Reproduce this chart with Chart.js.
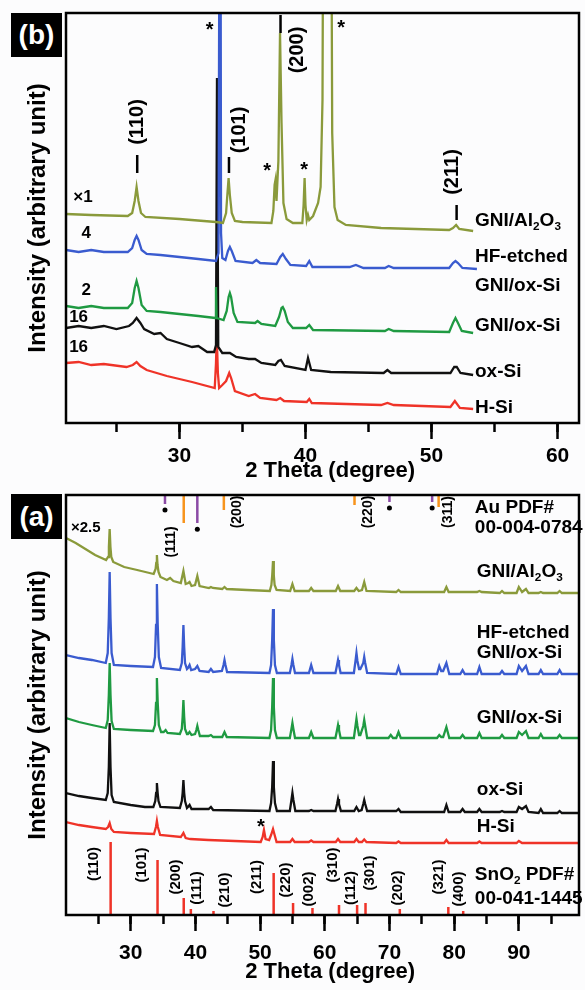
<!DOCTYPE html>
<html>
<head>
<meta charset="utf-8">
<script src="https://cdn.jsdelivr.net/npm/chart.js@4.4.0/dist/chart.umd.min.js"></script>
<style>
  body { margin: 0; background: #fcfcfd; width: 585px; height: 990px; position: relative; overflow: hidden; }
  .wrap { position: absolute; left: 0; width: 585px; }
  .tag { position: absolute; left: 11px; width: 51px; background: #000; color: #fff;
         font: bold 28px 'Liberation Sans', Arial, sans-serif; display: flex; align-items: center; justify-content: center; }
</style>
</head>
<body>
<div class="wrap" style="top:0;height:484px"><canvas id="chartB" width="585" height="484"></canvas></div>
<div class="wrap" style="top:484px;height:506px"><canvas id="chartA" width="585" height="506"></canvas></div>
<div class="tag" style="top:13px;height:44px">(b)</div>
<div class="tag" style="top:494px;height:45px">(a)</div>
<script>
const FONT = "'Liberation Sans', Arial, sans-serif";
const OLIVE = '#8a9a3b', BLUE = '#3a5bcf', GREEN = '#1f9a42', BLACK = '#111111', RED = '#ef3328';
const ORANGE = '#f7941d', PURPLE = '#8b4aa6';

// ---- panel (b): 2theta vs intensity (offset curves) ----
const bAl = [[21,209],[23,208],[25.9,207],[26.25,210],[26.45,222],[26.6,236],[26.75,222],[26.95,210],[27.3,206],[30,204],[32.9,201],[33.45,200],[33.7,210],[33.8,228],[33.9,245],[34.0,228],[34.15,210],[34.4,202],[35,201],[37.3,200],[37.45,212],[37.55,238],[37.62,243],[37.7,222],[37.85,262],[37.98,390],[38.1,300],[38.25,220],[38.5,204],[39.0,200],[39.75,200],[39.85,218],[39.93,245],[40.0,218],[40.1,203],[40.2,208],[40.3,203],[40.6,207],[41.0,220],[41.2,236],[41.35,323],[41.45,700],[42.0,700],[42.12,290],[42.3,216],[42.55,203],[43.2,198],[46,195],[51.4,193],[51.7,195],[51.95,198],[52.2,194],[53.3,192]];
const bHF = [[21,173],[22,171],[23,173],[24,171],[25.9,171],[26.25,175],[26.45,183],[26.6,187],[26.75,183],[27.0,173],[27.4,169],[28.5,168],[30,166],[31.5,164],[32.9,162],[33.1,170],[33.17,500],[33.23,800],[33.3,190],[33.4,165],[33.65,163],[33.85,172],[34.0,176],[34.15,172],[34.45,162],[35.8,160],[36.1,163],[36.4,160],[37.7,159],[38.0,166],[38.2,169],[38.45,164],[38.8,158],[40.05,157],[40.3,162],[40.55,156],[43.5,156],[44.0,158],[44.6,155],[46.3,155],[46.6,157],[47,155],[51.4,155],[51.7,160],[51.9,162],[52.1,160],[52.45,155],[53.6,154]];
const bGox = [[21,117],[22,115],[23,117],[24,115],[25.9,115],[26.25,120],[26.45,135],[26.6,142],[26.75,135],[27.0,118],[27.4,112],[28.5,111],[30,109],[31.5,107],[32.85,105],[32.9,136],[32.95,105],[33.5,103],[33.75,112],[33.9,126],[34.0,130],[34.1,126],[34.3,110],[34.6,101],[36.0,100],[36.2,102],[36.5,99],[37.6,97],[37.9,106],[38.1,115],[38.2,116],[38.35,112],[38.6,101],[39.0,95],[40.05,95],[40.3,98],[40.6,93],[46.3,92],[46.6,94],[47,92],[51.4,91],[51.7,100],[51.9,105],[52.1,100],[52.4,92],[53.3,90]];
const bOx = [[21,95],[22,97],[23,95],[24,97],[25,94],[26,97],[26.3,100],[26.6,105],[26.9,100],[27.2,94],[28,89],[28.5,90],[29,84],[30,80],[31,76],[31.5,77],[32.2,71],[32.75,71],[32.9,78],[32.98,345],[33.08,76],[33.4,70],[34.0,70],[34.5,66],[35.5,64],[36.0,64],[36.5,60],[37.6,58],[37.85,62],[38.05,63],[38.35,57],[40.0,53],[40.2,65],[40.45,53],[42,51],[46.2,50],[46.5,53],[46.8,50],[51.5,50],[51.8,56],[52.0,56],[52.3,50],[53.3,48]];
const bHSi = [[21,60],[22,61],[23,58],[24,59],[25.8,56],[26.3,58],[26.6,61],[26.9,57],[27.4,53],[29,47],[31,41],[32.8,35],[32.9,60],[32.96,88],[33.05,50],[33.15,35],[33.4,38],[33.7,42],[33.95,50],[34.1,45],[34.4,32],[35.5,27],[36.0,29],[36.4,25],[37.7,23],[38.0,25],[38.3,22],[40.1,21],[40.3,24],[40.5,20],[46,18],[46.5,20],[47,18],[51.5,16],[51.85,22],[52.25,15],[53.3,14]];

// ---- panel (a) ----
const aAl = [[20,377],[21.5,372],[23,366],[24.5,360],[26.2,355],[26.5,358],[26.63,368],[26.75,386],[26.87,368],[27.0,358],[27.3,353],[29,348],[31,345],[33.55,341],[33.85,346],[33.95,352],[34.05,360],[34.15,350],[34.3,343],[34.6,338],[35.6,335],[36.1,337],[36.6,334],[37.75,332],[38.15,344],[38.5,331],[38.9,332],[39.1,333],[39.4,329],[39.95,330],[40.3,339],[40.65,329],[42.1,327],[42.4,328],[42.7,327],[44.15,326],[44.5,328],[44.85,326],[48,325],[51.5,324],[51.75,330],[51.88,340],[52.0,354],[52.12,340],[52.25,330],[52.55,325],[54.65,324],[55.0,331],[55.35,324],[57.55,324],[57.9,327],[58.25,324],[61.7,324],[62.05,329],[62.4,324],[64.55,324],[64.9,327],[65.25,324],[65.75,325],[66.1,333],[66.45,324],[71.05,323],[71.4,325],[71.75,323],[78.45,323],[78.8,328],[79.15,323],[83.55,323],[83.9,324],[84.25,323],[87.05,322],[87.4,324],[87.75,322],[89.65,322],[90.0,328],[90.5,323],[91.1,326],[91.5,322],[93.05,322],[93.4,323],[93.75,322],[95.95,322],[96.3,324],[96.65,322],[99.3,322]];
const aHF = [[20,260],[22,257],[24,255],[26.15,252],[26.45,262],[26.62,297],[26.75,343],[26.88,297],[27.05,262],[27.4,250],[30,249],[33.45,248],[33.75,258],[33.92,290],[34.05,331],[34.18,290],[34.35,258],[34.7,247],[37.6,245],[37.9,252],[38.03,268],[38.15,290],[38.27,268],[38.4,252],[38.7,246],[38.85,247],[39.1,250],[39.35,245],[39.95,246],[40.3,249],[40.65,244],[42.05,243],[42.4,246],[42.75,243],[44.1,244],[44.35,250],[44.5,255],[44.65,250],[44.9,243],[51.45,242],[51.7,250],[51.87,275],[52.0,306],[52.13,275],[52.3,250],[52.6,242],[54.6,242],[54.85,250],[55.0,256],[55.15,250],[55.4,242],[57.55,242],[57.9,250],[58.25,242],[61.65,242],[61.9,250],[62.05,255],[62.2,250],[62.45,242],[64.5,242],[64.75,254],[64.9,262],[65.05,254],[65.3,246],[65.5,246],[65.95,252],[66.1,258],[66.25,252],[66.55,242],[71.05,241],[71.4,248],[71.75,241],[77.35,241],[77.7,249],[78.0,244],[78.3,244],[78.8,252],[79.25,241],[80.95,241],[81.3,245],[81.65,241],[83.55,241],[83.9,248],[84.25,241],[87.05,241],[87.4,244],[87.75,241],[89.65,241],[90.0,249],[90.5,244],[91.1,249],[91.5,241],[93.05,241],[93.4,245],[93.75,241],[95.95,241],[96.3,245],[96.65,241],[99.3,241]];
const aGox = [[20,197],[22,193],[24,190],[26.15,187],[26.45,195],[26.62,220],[26.75,252],[26.88,220],[27.05,194],[27.4,186],[30,185],[33.45,184],[33.75,190],[33.92,212],[34.05,237],[34.18,212],[34.35,190],[34.7,183],[35.1,183],[35.4,185],[35.7,182],[37.6,181],[37.9,186],[38.03,198],[38.15,215],[38.27,198],[38.4,186],[38.7,181],[38.85,181],[39.1,183],[39.4,180],[39.95,181],[40.15,185],[40.3,189],[40.45,185],[40.7,179],[42.05,179],[42.4,180],[42.75,178],[44.15,178],[44.5,183],[44.85,178],[51.45,177],[51.7,185],[51.87,208],[52.0,237],[52.13,208],[52.3,185],[52.6,177],[54.6,177],[54.85,186],[55.0,192],[55.15,186],[55.4,177],[57.55,177],[57.9,183],[58.25,177],[61.65,177],[61.9,185],[62.05,190],[62.2,185],[62.45,177],[64.5,177],[64.75,189],[64.9,196],[65.05,189],[65.3,180],[65.5,180],[65.95,189],[66.1,195],[66.25,189],[66.55,177],[69.85,177],[70.2,180],[70.55,177],[71.05,177],[71.4,183],[71.75,177],[77.35,177],[77.7,180],[78.0,178],[78.3,178],[78.8,188],[79.25,177],[80.95,177],[81.3,180],[81.65,177],[83.55,177],[83.9,182],[84.25,177],[87.05,177],[87.4,180],[87.75,177],[89.65,177],[90.0,183],[90.5,180],[91.1,184],[91.5,177],[93.05,177],[93.4,181],[93.75,177],[95.95,177],[96.3,180],[96.65,177],[99.3,177]];
const aOx = [[20,122],[22,119],[24,117],[26.15,115],[26.45,122],[26.62,148],[26.75,192],[26.88,148],[27.05,120],[27.4,113],[30,110],[32.2,108],[33.5,108],[33.8,114],[33.93,122],[34.05,132],[34.17,122],[34.3,114],[34.6,108],[37.6,107],[37.9,114],[38.03,122],[38.15,135],[38.27,122],[38.4,114],[38.7,107],[38.85,108],[39.1,110],[39.4,106],[42.05,106],[42.4,108],[42.75,105],[51.45,104],[51.7,112],[51.87,128],[52.0,154],[52.13,128],[52.3,112],[52.6,104],[54.6,104],[54.85,115],[55.0,122],[55.15,115],[55.45,104],[57.55,104],[57.9,105],[58.25,104],[61.65,104],[61.9,111],[62.05,116],[62.2,111],[62.5,104],[64.55,104],[64.9,108],[65.25,104],[65.7,105],[65.95,111],[66.1,115],[66.25,111],[66.55,104],[71.05,104],[71.4,106],[71.75,103],[78.45,103],[78.8,110],[79.15,103],[80.95,103],[81.3,106],[81.65,103],[83.55,103],[83.9,106],[84.25,103],[87.05,103],[87.4,104],[87.75,103],[89.65,103],[90.0,108],[90.5,106],[91.1,109],[91.5,103],[93.05,102],[93.4,106],[93.75,102],[95.95,102],[96.3,104],[96.65,102],[99.3,102]];
const aHSi = [[20,93],[22,90],[24,88],[26.15,86],[26.5,88],[26.75,92],[27.0,86],[27.4,83],[30,82],[33.6,81],[33.9,88],[34.05,94],[34.2,88],[34.55,80],[37.75,78],[38.15,82],[38.5,77],[39.2,76],[42,75],[50.1,73],[50.4,78],[50.6,85],[50.85,76],[51.4,75],[51.7,80],[52.0,86],[52.25,80],[52.55,73],[54.65,73],[55.0,76],[55.35,73],[57.55,73],[57.9,74.5],[58.25,73],[61.7,73],[62.05,76],[62.4,73],[64.55,73],[64.9,76],[65.25,73],[65.75,73],[66.1,75.5],[66.45,73],[71.05,72],[71.4,73.5],[71.75,72],[78.45,72],[78.8,75],[79.15,72],[83.55,72],[83.9,73.5],[84.25,72],[89.65,72],[90.0,74],[90.5,72],[99.3,72]];

// SnO2 reference sticks (PDF 00-041-1445)
const snoTheta = [26.9, 34.15, 38.2, 39.3, 42.8, 52.1, 55.1, 58.1, 62.2, 65.0, 66.3, 71.6, 79.1, 81.4];
const snoHeight = [73, 55, 17, 6, 4, 42, 12, 7, 10, 10, 12, 6, 8, 4];
const snoLabels = ['(110)','(101)','(200)','(111)','(210)','(211)','(220)','(002)','(310)','(112)','(301)','(202)','(321)','(400)'];
const snoLabelX = [24.34, 31.7, 37.0, 40.3, 44.5, 49.55, 54.0, 57.6, 61.2, 64.1, 66.9, 71.3, 77.6, 80.8];
const snoLabelY = [51, 50, 38, 27, 25, 38, 35, 26, 50, 27, 42, 27, 38, 26];

// Au reference (orange) and other marks (purple, with dots)
const auTheta = [38.2, 44.4, 64.6, 77.6];
const auLow = [392, 405, 410, 408];
const markTheta = [35.3, 40.3, 70.0, 76.6];
const markLow = [411, 392, 413, 413];
const dotY = [405, 385.7, 407, 407];

const toXY = arr => arr.map(([x, y]) => ({ x, y }));
function sticks(xs, lows, highs) {
  const out = [];
  xs.forEach((x, i) => { out.push({ x, y: lows[i] }, { x, y: highs[i] }, { x, y: null }); });
  return out;
}
function line(data, color, w) {
  return { type: 'line', data, borderColor: color, borderWidth: w || 2.3, pointRadius: 0, tension: 0, spanGaps: false };
}

function notesPlugin(items) {
  return {
    id: 'notes',
    afterDatasetsDraw(chart) {
      const { ctx, chartArea: a, scales } = chart;
      const sx = scales.x, sy = scales.y;
      ctx.save();
      ctx.strokeStyle = '#000';
      ctx.lineWidth = 2.5;
      ctx.strokeRect(a.left, a.top, a.right - a.left, a.bottom - a.top);
      items.forEach(n => {
        const px = sx.getPixelForValue(n.x);
        const py = sy.getPixelForValue(n.y);
        ctx.save();
        ctx.fillStyle = '#000';
        ctx.strokeStyle = '#000';
        if (n.bar !== undefined) {
          ctx.lineWidth = 2.5;
          ctx.beginPath();
          ctx.moveTo(px, py);
          ctx.lineTo(px, sy.getPixelForValue(n.bar));
          ctx.stroke();
        } else if (n.star) {
          ctx.font = `bold ${n.size}px ${FONT}`;
          ctx.textAlign = 'center';
          ctx.textBaseline = 'alphabetic';
          ctx.fillText('*', px, py + n.size * 0.55);
        } else {
          const parts = n.parts || [[n.text]];
          ctx.translate(px, py);
          if (n.rot) ctx.rotate(-Math.PI / 2);
          ctx.textBaseline = 'middle';
          ctx.textAlign = 'left';
          let w = 0;
          parts.forEach(p => {
            ctx.font = `bold ${p[1] ? n.size * 0.62 : n.size}px ${FONT}`;
            w += ctx.measureText(p[0]).width;
          });
          let cx = n.align === 'left' ? 0 : -w / 2;
          parts.forEach(p => {
            ctx.font = `bold ${p[1] ? n.size * 0.62 : n.size}px ${FONT}`;
            ctx.fillText(p[0], cx, p[1] ? n.size * 0.3 : 0);
            cx += ctx.measureText(p[0]).width;
          });
        }
        ctx.restore();
      });
      ctx.restore();
    }
  };
}

function axes(min, max, ymax, tickPad, xHeight) {
  const inner = s => { s.ticks = s.ticks.filter(t => t.value > s.min + 0.01 && t.value < s.max - 0.01); };
  return {
    xMinor: {
      type: 'linear', position: 'bottom', min, max, weight: 0,
      border: { display: false },
      grid: { drawOnChartArea: false, tickLength: 9, tickWidth: 2.5, tickColor: '#000' },
      ticks: { display: false, stepSize: 5, includeBounds: false },
      afterBuildTicks: inner,
      afterFit: s => { s.height = 0; }
    },
    x: {
      type: 'linear', position: 'bottom', min, max, weight: 1,
      border: { display: false },
      grid: { drawOnChartArea: false, tickLength: 16, tickWidth: 2.5, tickColor: '#000' },
      ticks: { stepSize: 10, includeBounds: false, padding: tickPad, maxRotation: 0, color: '#000',
               font: { family: FONT, size: 21, weight: 'bold' } },
      afterBuildTicks: inner,
      title: { display: true, text: '\u2002\u20092 Theta (degree)', color: '#000', padding: 0,
               font: { family: FONT, size: 22, weight: 'bold' } },
      afterFit: s => { s.height = xHeight; }
    },
    y: {
      min: 0, max: ymax,
      ticks: { display: false }, grid: { display: false }, border: { display: false },
      title: { display: true, text: 'Intensity (arbitrary unit)', color: '#000', padding: { top: 24, bottom: 0 },
               font: { family: FONT, size: 24, weight: 'bold' } },
      afterFit: s => { s.width = 66; }
    }
  };
}

function baseOptions(scales, pad) {
  return {
    responsive: false, animation: false,
    layout: { padding: pad },
    plugins: { legend: { display: false }, tooltip: { enabled: false } },
    scales
  };
}

// ---- annotations panel (b) ----
const alParts = [['GNI/Al'], ['2', 1], ['O'], ['3', 1]];
const notesB = [
  { x: 53.45, y: 202, parts: alParts, size: 19, align: 'left' },
  { x: 53.45, y: 166, text: 'HF-etched', size: 19, align: 'left' },
  { x: 53.45, y: 137, text: 'GNI/ox-Si', size: 19, align: 'left' },
  { x: 53.45, y: 97, text: 'GNI/ox-Si', size: 19, align: 'left' },
  { x: 53.45, y: 51, text: 'ox-Si', size: 19, align: 'left' },
  { x: 53.45, y: 15, text: 'H-Si', size: 19, align: 'left' },
  { x: 22.35, y: 226, text: '\u00d71', size: 17 },
  { x: 22.6, y: 190, text: '4', size: 17 },
  { x: 22.6, y: 133, text: '2', size: 17 },
  { x: 22.0, y: 106, text: '16', size: 17 },
  { x: 22.0, y: 76, text: '16', size: 17 },
  { x: 26.71, y: 301, text: '(110)', size: 20, rot: true },
  { x: 34.77, y: 293, text: '(101)', size: 20, rot: true },
  { x: 39.35, y: 373, text: '(200)', size: 20, rot: true },
  { x: 51.63, y: 251, text: '(211)', size: 20, rot: true },
  { x: 26.65, y: 250, bar: 268 },
  { x: 33.93, y: 250, bar: 266 },
  { x: 38.02, y: 390, bar: 408 },
  { x: 51.99, y: 203, bar: 218 },
  { x: 32.39, y: 398, star: true, size: 20 },
  { x: 36.96, y: 257, star: true, size: 20 },
  { x: 39.9, y: 258, star: true, size: 20 },
  { x: 42.83, y: 400, star: true, size: 20 }
];

// ---- annotations panel (a) ----
const notesA = [
  { x: 23.06, y: 387, text: '\u00d72.5', size: 15 },
  { x: 36.3, y: 373, text: '(111)', size: 14, rot: true },
  { x: 46.5, y: 403, text: '(200)', size: 14, rot: true },
  { x: 66.65, y: 403, text: '(220)', size: 14, rot: true },
  { x: 79.04, y: 403, text: '(311)', size: 14, rot: true },
  { x: 83.2, y: 407, text: 'Au PDF#', size: 19, align: 'left' },
  { x: 83.2, y: 387, text: '00-004-0784', size: 19, align: 'left' },
  { x: 83.5, y: 343, parts: alParts, size: 19, align: 'left' },
  { x: 83.5, y: 282, text: 'HF-etched', size: 19, align: 'left' },
  { x: 83.5, y: 262, text: 'GNI/ox-Si', size: 19, align: 'left' },
  { x: 83.5, y: 197, text: 'GNI/ox-Si', size: 19, align: 'left' },
  { x: 83.5, y: 125, text: 'ox-Si', size: 19, align: 'left' },
  { x: 83.5, y: 88, text: 'H-Si', size: 19, align: 'left' },
  { x: 50.12, y: 93, star: true, size: 20 },
  { x: 83.2, y: 40, parts: [['SnO'], ['2', 1], [' PDF#']], size: 19, align: 'left' },
  { x: 83.2, y: 16, text: '00-041-1445', size: 19, align: 'left' }
].concat(snoLabels.map((t, i) => ({ x: snoLabelX[i], y: snoLabelY[i], text: t, size: 15, rot: true })));

new Chart(document.getElementById('chartB'), {
  type: 'line',
  data: { datasets: [
    line(toXY(bAl), OLIVE), line(toXY(bHF), BLUE), line(toXY(bGox), GREEN),
    line(toXY(bOx), BLACK), line(toXY(bHSi), RED)
  ] },
  options: baseOptions(axes(21, 61.7, 410, 5, 61), { top: 13, right: 6, left: 0, bottom: 0 }),
  plugins: [notesPlugin(notesB)]
});

new Chart(document.getElementById('chartA'), {
  type: 'line',
  data: { datasets: [
    line(toXY(aAl), OLIVE), line(toXY(aHF), BLUE), line(toXY(aGox), GREEN),
    line(toXY(aOx), BLACK), line(toXY(aHSi), RED),
    line(sticks(snoTheta, snoTheta.map(() => 0), snoHeight), RED, 2.5),
    line(sticks(auTheta, auTheta.map(() => 420), auLow), ORANGE, 2.5),
    line(sticks(markTheta, markTheta.map(() => 420), markLow), PURPLE, 2.5),
    { type: 'scatter', data: markTheta.map((x, i) => ({ x, y: dotY[i] })), pointRadius: 2.5,
      pointBackgroundColor: '#000', pointBorderWidth: 0, showLine: false }
  ] },
  options: baseOptions(axes(20, 99.3, 420, 10, 70), { top: 11, right: 6, left: 0, bottom: 5 }),
  plugins: [notesPlugin(notesA)]
});
</script>
</body>
</html>
